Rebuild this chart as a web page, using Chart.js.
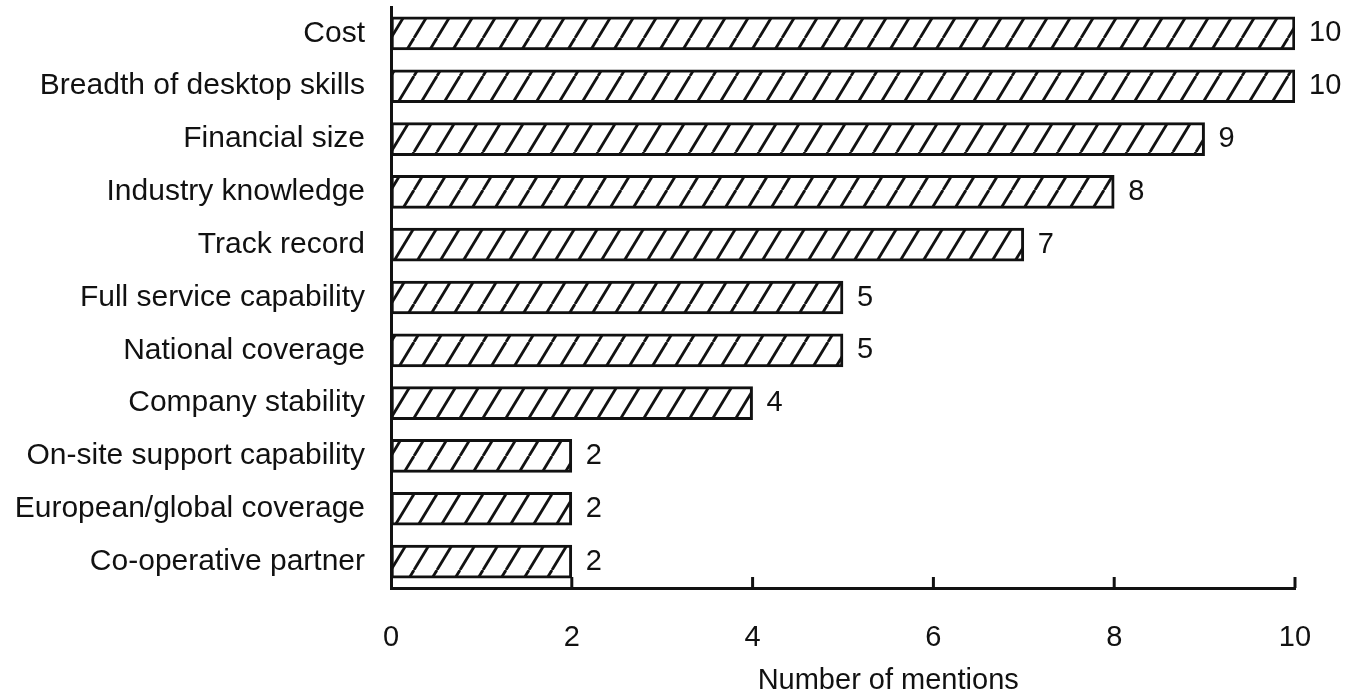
<!DOCTYPE html>
<html>
<head>
<meta charset="utf-8">
<script src="https://cdn.jsdelivr.net/npm/chart.js@4/dist/chart.umd.min.js"></script>
<style>
    html, body { margin: 0; padding: 0; background: #fff; }
    #wrap { width: 1347px; height: 695px; }
</style>
</head>
<body>
<div id="wrap"><canvas id="mentions-chart"></canvas></div>
<script>
const categories = [
    'Cost',
    'Breadth of desktop skills',
    'Financial size',
    'Industry knowledge',
    'Track record',
    'Full service capability',
    'National coverage',
    'Company stability',
    'On-site support capability',
    'European/global coverage',
    'Co-operative partner'
];
const mentions = [10, 10, 9, 8, 7, 5, 5, 4, 2, 2, 2];
const xTicks = [0, 2, 4, 6, 8, 10];
const xTitle = 'Number of mentions';

const FONT = '"Liberation Sans", Arial, Helvetica, sans-serif';

// diagonal hatch fill like the printed original
function makeHatch() {
    const tile = document.createElement('canvas');
    tile.width = 23;
    tile.height = 38;
    const t = tile.getContext('2d');
    t.fillStyle = '#fff';
    t.fillRect(0, 0, 23, 38);
    t.strokeStyle = '#111';
    t.lineWidth = 2.8;
    [-23, 0, 23].forEach(dx => {
        t.beginPath();
        t.moveTo(dx, 38);
        t.lineTo(dx + 23, 0);
        t.stroke();
    });
    return t.createPattern(tile, 'repeat');
}

function initializeMentionsChart() {
    const ctx = document.getElementById('mentions-chart').getContext('2d');

    const valueLabels = {
        id: 'valueLabels',
        afterDatasetsDraw(chart) {
            const {ctx} = chart;
            const meta = chart.getDatasetMeta(0);
            ctx.save();
            ctx.font = '29px ' + FONT;
            ctx.fillStyle = '#111';
            ctx.textBaseline = 'middle';
            ctx.textAlign = 'left';
            meta.data.forEach((bar, i) => {
                ctx.fillText(String(mentions[i]), bar.x + 14, bar.y);
            });
            ctx.restore();
        }
    };

    // tick marks point up into the plot, and the axis caption sits off-centre
    const axisExtras = {
        id: 'axisExtras',
        afterDraw(chart) {
            const {ctx, scales: {x}} = chart;
            ctx.save();
            ctx.strokeStyle = '#111';
            ctx.lineWidth = 3;
            xTicks.forEach(v => {
                if (v === 0) return;
                const px = x.getPixelForValue(v);
                ctx.beginPath();
                ctx.moveTo(px, x.top);
                ctx.lineTo(px, x.top - 11);
                ctx.stroke();
            });
            ctx.font = '29px ' + FONT;
            ctx.fillStyle = '#111';
            ctx.textAlign = 'center';
            ctx.textBaseline = 'middle';
            ctx.fillText(xTitle, x.getPixelForValue(5.5), 681);
            ctx.restore();
        }
    };

    const myChart = new Chart(ctx, {
        type: 'bar',
        data: {
            labels: categories,
            datasets: [{
                label: xTitle,
                data: mentions,
                backgroundColor: makeHatch(),
                borderColor: '#111',
                borderWidth: 3,
                borderSkipped: false,
                barThickness: 33
            }]
        },
        options: {
            responsive: true,
            maintainAspectRatio: false,
            animation: false,
            indexAxis: 'y',
            layout: {
                padding: { top: 7, right: 52, left: 0, bottom: 0 }
            },
            scales: {
                x: {
                    min: 0,
                    max: 10,
                    afterFit(scale) { scale.height = 107; },
                    afterBuildTicks(scale) {
                        scale.ticks = xTicks.map(v => ({value: v}));
                    },
                    grid: { display: false, drawTicks: false },
                    border: { display: true, color: '#111', width: 3 },
                    ticks: {
                        color: '#111',
                        padding: 33,
                        font: { family: FONT, size: 29 }
                    }
                },
                y: {
                    afterFit(scale) {
                        scale.width = 391;
                        scale.paddingTop = 0;
                        scale.paddingBottom = 0;
                    },
                    grid: { display: false, drawTicks: false },
                    border: { display: true, color: '#111', width: 3 },
                    ticks: {
                        color: '#111',
                        padding: 26,
                        font: { family: FONT, size: 30 }
                    }
                }
            },
            plugins: {
                legend: { display: false },
                tooltip: { enabled: false }
            }
        },
        plugins: [valueLabels, axisExtras]
    });
}

initializeMentionsChart();
</script>
</body>
</html>
